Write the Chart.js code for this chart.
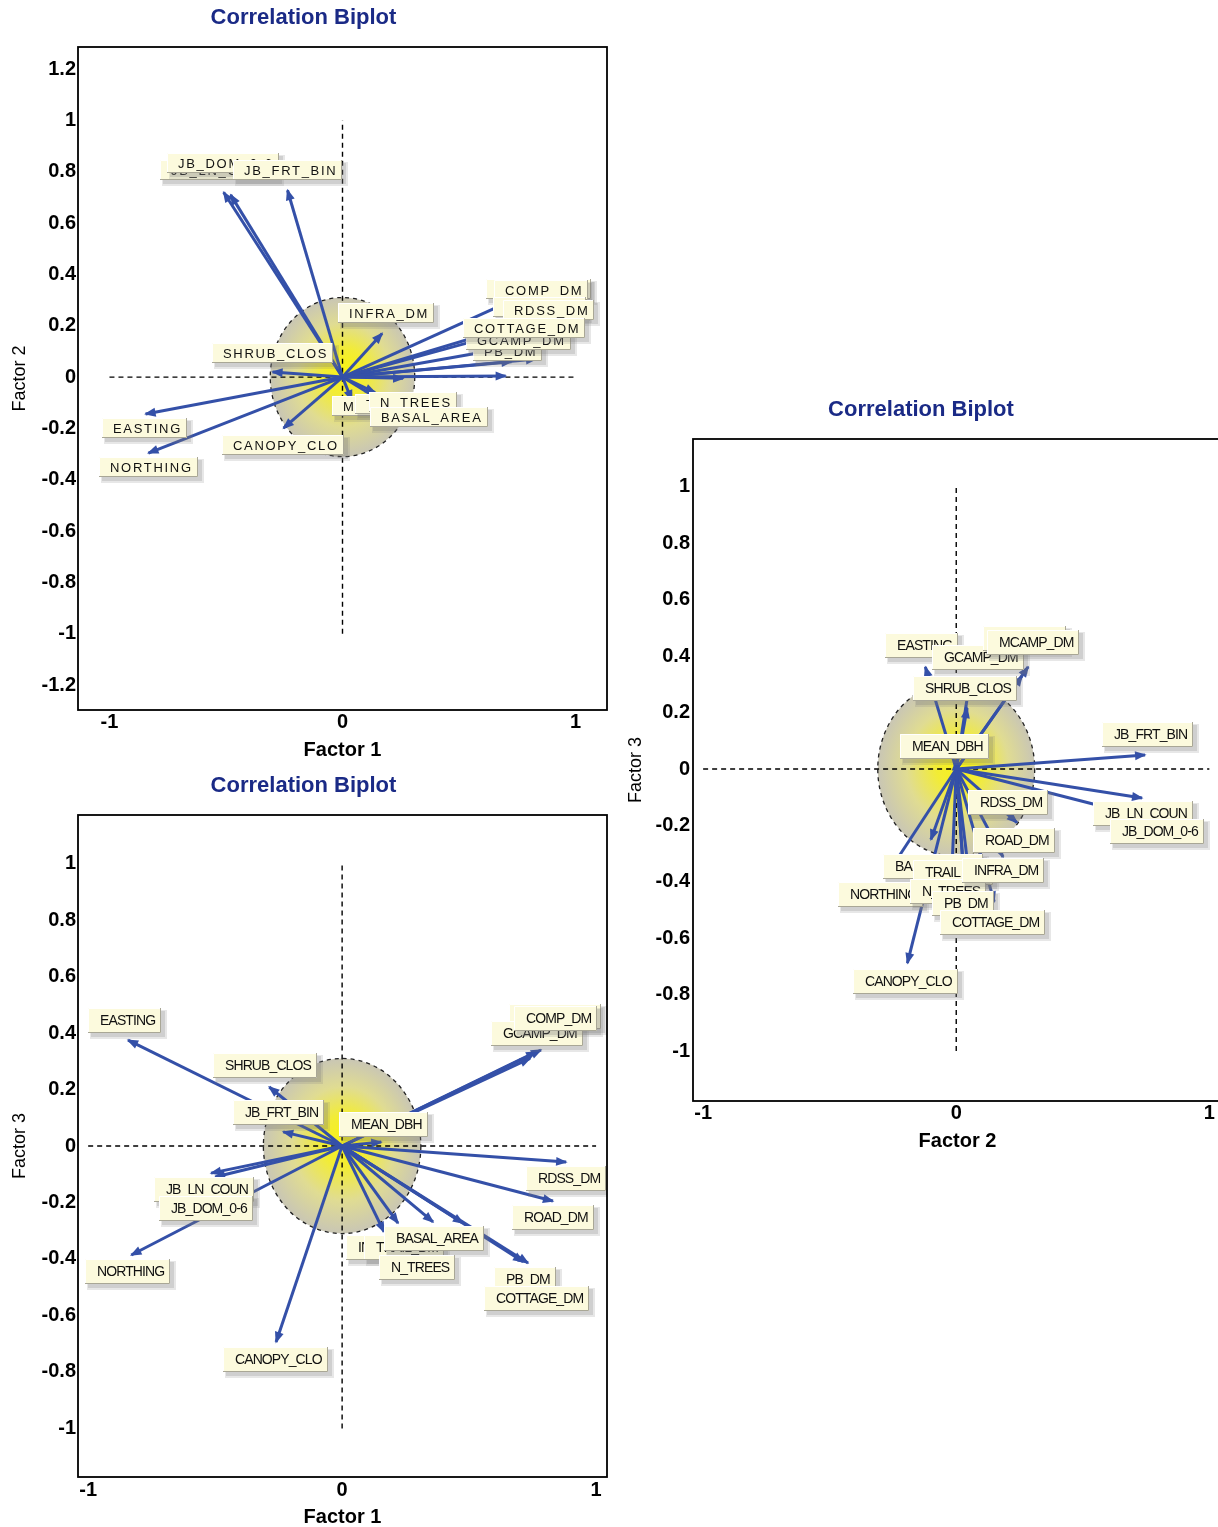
<!DOCTYPE html>
<html>
<head>
<meta charset="utf-8">
<title>Correlation Biplots</title>
<script src="https://cdn.jsdelivr.net/npm/chart.js@4.4.1/dist/chart.umd.min.js"></script>
<style>
  html, body { margin: 0; padding: 0; background: #ffffff; }
  body { position: relative; width: 1218px; height: 1527px; overflow: hidden; }
  canvas { position: absolute; }
</style>
</head>
<body>
<canvas id="plotF1F2" width="620" height="765" style="left:0px;top:0px"></canvas>
<canvas id="plotF1F3" width="620" height="762" style="left:0px;top:765px"></canvas>
<canvas id="plotF2F3" width="620" height="790" style="left:620px;top:380px"></canvas>
<script>
// ---------------- tick labels ----------------
const xTickValues   = [-1, 0, 1];
const yTicksWide    = [-1.2, -1, -0.8, -0.6, -0.4, -0.2, 0, 0.2, 0.4, 0.6, 0.8, 1, 1.2];
const yTicksNarrow  = [-1, -0.8, -0.6, -0.4, -0.2, 0, 0.2, 0.4, 0.6, 0.8, 1];
const circleRadius  = 0.31;

// ---------------- Factor 1 x Factor 2 loadings ----------------
const varsA = ['JB_LN_COUN','JB_DOM_0-6','JB_FRT_BIN','INFRA_DM','SHRUB_CLOS','MCAMP_DM','COMP_DM','ROAD_DM',
               'RDSS_DM','PB_DM','GCAMP_DM','COTTAGE_DM','MEAN_DBH','TRAIL_DM','N_TREES','BASAL_AREA',
               'EASTING','NORTHING','CANOPY_CLO'];
const factor1A = [-0.48, -0.51, -0.236, 0.17, -0.30, 0.70, 0.78, 0.83,
                  0.88, 0.725, 0.775, 0.725, 0.04, 0.26, 0.14, 0.18,
                  -0.845, -0.833, -0.253];
const factor2A = [0.71, 0.72, 0.728, 0.17, 0.02, 0.004, 0.32, 0.07,
                  0.24, 0.06, 0.125, 0.18, -0.09, -0.005, -0.06, -0.10,
                  -0.144, -0.296, -0.199];

// ---------------- Factor 1 x Factor 3 loadings ----------------
const varsB = ['EASTING','SHRUB_CLOS','JB_FRT_BIN','MEAN_DBH','MCAMP_DM','GCAMP_DM','COMP_DM','RDSS_DM',
               'ROAD_DM','JB_LN_COUN','JB_DOM_0-6','NORTHING','INFRA_DM','TRAIL_DM','BASAL_AREA','N_TREES',
               'PB_DM','COTTAGE_DM','CANOPY_CLO'];
const factor1B = [-0.843, -0.287, -0.232, 0.154, 0.74, 0.764, 0.783, 0.882,
                  0.83, -0.516, -0.50, -0.83, 0.165, 0.22, 0.476, 0.358,
                  0.732, 0.713, -0.26];
const factor3B = [0.375, 0.209, 0.05, 0.014, 0.31, 0.333, 0.34, -0.057,
                  -0.195, -0.096, -0.11, -0.386, -0.304, -0.273, -0.273, -0.269,
                  -0.414, -0.41, -0.694];

// ---------------- Factor 2 x Factor 3 loadings ----------------
const varsC = ['EASTING','GCAMP_DM','COMP_DM','MCAMP_DM','SHRUB_CLOS','MEAN_DBH','JB_FRT_BIN','RDSS_DM',
               'JB_LN_COUN','JB_DOM_0-6','ROAD_DM','BASAL_AREA','TRAIL_DM','NORTHING','N_TREES','INFRA_DM',
               'PB_DM','COTTAGE_DM','CANOPY_CLO'];
const factor2C = [-0.122, 0.05, 0.26, 0.284, 0.043, 0.0, 0.746, 0.24,
                  0.734, 0.61, 0.185, -0.10, 0.03, -0.28, -0.02, 0.15,
                  0.04, 0.07, -0.193];
const factor3C = [0.362, 0.29, 0.33, 0.362, 0.216, 0.03, 0.05, -0.19,
                  -0.103, -0.14, -0.312, -0.25, -0.38, -0.383, -0.42, -0.47,
                  -0.50, -0.52, -0.688];

// ---------------- label placement (top-left corner of each tag, axis units) ----------------
const tagsA = [[-0.781,0.845],[-0.755,0.873],[-0.472,0.845],[-0.021,0.288],[-0.558,0.132],
               [0.614,0.382],[0.652,0.378],[0.644,0.312],[0.687,0.300],[0.558,0.140],
               [0.532,0.183],[0.515,0.230],[-0.043,-0.074],[0.052,-0.066],[0.112,-0.058],
               [0.120,-0.117],[-1.030,-0.160],[-1.047,-0.312],[-0.515,-0.226]];
const tagsB = [[-1.0,0.488],[-0.508,0.329],[-0.429,0.163],[-0.012,0.120],[0.657,0.503],
               [0.587,0.442],[0.677,0.496],[0.724,-0.071],[0.669,-0.209],[-0.740,-0.110],
               [-0.720,-0.177],[-1.012,-0.400],[0.016,-0.315],[0.087,-0.315],[0.165,-0.283],
               [0.146,-0.386],[0.598,-0.428],[0.559,-0.496],[-0.469,-0.712]];
const tagsC = [[-0.280,0.482],[-0.095,0.440],[0.107,0.507],[0.122,0.493],[-0.170,0.330],
               [-0.221,0.124],[0.576,0.167],[0.047,-0.074],[0.540,-0.113],[0.607,-0.177],
               [0.067,-0.209],[-0.288,-0.301],[-0.170,-0.323],[-0.469,-0.401],[-0.181,-0.390],
               [0.024,-0.316],[-0.095,-0.433],[-0.063,-0.500],[-0.406,-0.709]];

// ---------------- drawing helpers ----------------
const FONT = '"Liberation Sans", Arial, sans-serif';
const ARROW_BLUE = '#3450a8';
const fmt = v => String(Math.round(v * 10) / 10);

const tagStyleWide   = { font: '13px ' + FONT, spacing: '1.7px', h: 20, padL: 11, padR: 5 };
const tagStyleNarrow = { font: '14px ' + FONT, spacing: '-0.9px', h: 25, padL: 12, padR: 6 };

function drawTag(ctx, x, y, text, st) {
  ctx.font = st.font;
  if ('letterSpacing' in ctx) ctx.letterSpacing = st.spacing;
  const w = Math.round(ctx.measureText(text).width + st.padL + st.padR);
  const h = st.h;
  x = Math.round(x); y = Math.round(y);
  // drop shadow
  ctx.fillStyle = 'rgba(120,120,120,0.18)';
  ctx.fillRect(x + 2, y + 2, w + 4, h + 4);
  ctx.fillStyle = 'rgba(120,120,120,0.22)';
  ctx.fillRect(x + 3, y + 3, w + 1, h + 1);
  // tag body
  ctx.fillStyle = '#fcfadd';
  ctx.fillRect(x, y, w, h);
  ctx.strokeStyle = '#ffffff';
  ctx.lineWidth = 1;
  ctx.beginPath();
  ctx.moveTo(x + 0.5, y + h); ctx.lineTo(x + 0.5, y + 0.5); ctx.lineTo(x + w, y + 0.5);
  ctx.stroke();
  ctx.strokeStyle = '#a9a796';
  ctx.beginPath();
  ctx.moveTo(x + w - 0.5, y); ctx.lineTo(x + w - 0.5, y + h - 0.5); ctx.lineTo(x, y + h - 0.5);
  ctx.stroke();
  ctx.fillStyle = '#111111';
  ctx.textBaseline = 'middle';
  ctx.textAlign = 'left';
  ctx.fillText(text, x + st.padL, y + h / 2 + 1);
  if ('letterSpacing' in ctx) ctx.letterSpacing = '0px';
}

// shaded equilibrium circle and frame, drawn under the datasets
const backdropPlugin = {
  id: 'backdrop',
  beforeDatasetsDraw(chart, args, opts) {
    const { ctx, chartArea: a, scales: { x, y } } = chart;
    const cx = x.getPixelForValue(0), cy = y.getPixelForValue(0);
    const rx = Math.abs(x.getPixelForValue(opts.radius) - cx);
    const ry = Math.abs(y.getPixelForValue(opts.radius) - cy);
    ctx.save();
    ctx.beginPath(); ctx.rect(a.left, a.top, a.right - a.left, a.bottom - a.top); ctx.clip();
    ctx.save();
    ctx.translate(cx, cy);
    ctx.scale(1, ry / rx);
    const g = ctx.createRadialGradient(rx * 0.05, -rx * 0.08, 0, 0, 0, rx);
    g.addColorStop(0, '#f8f214');
    g.addColorStop(0.3, '#f2ec36');
    g.addColorStop(0.65, '#e0dc92');
    g.addColorStop(1, '#c9c6b4');
    ctx.beginPath(); ctx.arc(0, 0, rx, 0, Math.PI * 2);
    ctx.fillStyle = g; ctx.fill();
    ctx.restore();
    ctx.beginPath(); ctx.ellipse(cx, cy, rx, ry, 0, 0, Math.PI * 2);
    ctx.setLineDash([4, 4]); ctx.lineWidth = 1.3; ctx.strokeStyle = '#222222'; ctx.stroke();
    ctx.restore();
  },
  afterDraw(chart) {
    const { ctx, chartArea: a } = chart;
    ctx.save();
    ctx.strokeStyle = '#000000'; ctx.lineWidth = 1.8;
    ctx.strokeRect(a.left, a.top, a.right - a.left, a.bottom - a.top);
    ctx.restore();
  }
};

// arrowheads on the loading vectors, then the variable tags on top
const arrowTagPlugin = {
  id: 'arrowTags',
  afterDatasetsDraw(chart, args, opts) {
    const { ctx, chartArea: a, scales: { x, y } } = chart;
    ctx.save();
    ctx.beginPath(); ctx.rect(a.left, a.top, a.right - a.left, a.bottom - a.top); ctx.clip();
    chart.data.datasets.forEach((ds, i) => {
      if (!ds.isVector) return;
      const pts = chart.getDatasetMeta(i).data;
      const p0 = pts[0], p1 = pts[1];
      let ang = Math.atan2(p1.y - p0.y, p1.x - p0.x);
      if (Math.hypot(p1.x - p0.x, p1.y - p0.y) < 0.5) ang = -Math.PI / 2;
      const L = 10, W = 4.5, c = Math.cos(ang), s = Math.sin(ang);
      ctx.fillStyle = ds.borderColor;
      ctx.beginPath();
      ctx.moveTo(p1.x + c * 1.5, p1.y + s * 1.5);
      ctx.lineTo(p1.x - L * c + W * s, p1.y - L * s - W * c);
      ctx.lineTo(p1.x - L * c - W * s, p1.y - L * s + W * c);
      ctx.closePath();
      ctx.fill();
    });
    opts.names.forEach((name, i) => {
      const t = opts.tags[i];
      drawTag(ctx, x.getPixelForValue(t[0]), y.getPixelForValue(t[1]), name, opts.style);
    });
    ctx.restore();
  }
};

function biplot(canvasId, o) {
  const vectors = o.names.map((name, i) => ({
    label: name,
    isVector: true,
    showLine: true,
    data: [{ x: 0, y: 0 }, { x: o.xs[i], y: o.ys[i] }],
    borderColor: ARROW_BLUE,
    backgroundColor: ARROW_BLUE,
    borderWidth: 3,
    pointRadius: 0,
    pointHoverRadius: 0
  }));
  const crossHairs = [
    { label: 'h0', showLine: true, data: [{ x: -1, y: 0 }, { x: 1, y: 0 }],
      borderColor: '#000000', borderWidth: 1.4, borderDash: [5, 4], pointRadius: 0 },
    { label: 'v0', showLine: true, data: [{ x: 0, y: -1 }, { x: 0, y: 1 }],
      borderColor: '#000000', borderWidth: 1.4, borderDash: [5, 4], pointRadius: 0 }
  ];
  return new Chart(document.getElementById(canvasId), {
    type: 'scatter',
    data: { datasets: vectors.concat(crossHairs) },
    options: {
      responsive: false,
      animation: false,
      events: [],
      layout: { padding: { left: 0, right: o.padRight, top: 0, bottom: 0 } },
      plugins: {
        legend: { display: false },
        tooltip: { enabled: false },
        title: {
          display: true,
          text: 'Correlation Biplot',
          color: '#1a2a86',
          font: { family: FONT, size: 22, weight: 'bold', lineHeight: 1 },
          padding: { top: o.titleTop, bottom: o.titleBottom }
        },
        backdrop: { radius: circleRadius },
        arrowTags: { names: o.names, tags: o.tags, style: o.tagStyle }
      },
      scales: {
        x: {
          type: 'linear', min: o.xMin, max: o.xMax,
          grid: { display: false, drawTicks: false },
          border: { display: false },
          afterBuildTicks: s => { s.ticks = xTickValues.map(v => ({ value: v })); },
          afterFit: s => { s.height = o.xAxisHeight; },
          ticks: { color: '#000000', padding: o.xTickPad, maxRotation: 0,
                   font: { family: FONT, size: 20, weight: 'bold' }, callback: v => fmt(v) },
          title: { display: true, text: o.xTitle, color: '#000000',
                   font: { family: FONT, size: 20, weight: 'bold', lineHeight: 1 },
                   padding: { top: 0, bottom: o.xTitlePad } }
        },
        y: {
          type: 'linear', min: o.yMin, max: o.yMax,
          grid: { display: false, drawTicks: false },
          border: { display: false },
          afterBuildTicks: s => { s.ticks = o.yTicks.map(v => ({ value: v })); },
          afterFit: s => { s.width = o.yAxisWidth; },
          ticks: { color: '#000000', padding: o.yTickPad,
                   font: { family: FONT, size: 20, weight: 'bold' }, callback: v => fmt(v) },
          title: { display: true, text: o.yTitle, color: '#000000',
                   font: { family: FONT, size: 18, weight: 'normal', lineHeight: 1.2 },
                   padding: { top: o.yTitlePad, bottom: 0 } }
        }
      }
    },
    plugins: [backdropPlugin, arrowTagPlugin]
  });
}

biplot('plotF1F2', {
  names: varsA, xs: factor1A, ys: factor2A, tags: tagsA, tagStyle: tagStyleWide,
  xMin: -1.135, xMax: 1.135, yMin: -1.297, yMax: 1.286, yTicks: yTicksWide,
  xTitle: 'Factor 1', yTitle: 'Factor 2',
  padRight: 13, titleTop: 7, titleBottom: 18,
  yAxisWidth: 78, xAxisHeight: 55, xTickPad: 0, yTickPad: 2, xTitlePad: 5, yTitlePad: 9
});

biplot('plotF1F3', {
  names: varsB, xs: factor1B, ys: factor3B, tags: tagsB, tagStyle: tagStyleNarrow,
  xMin: -1.04, xMax: 1.043, yMin: -1.172, yMax: 1.172, yTicks: yTicksNarrow,
  xTitle: 'Factor 1', yTitle: 'Factor 3',
  padRight: 13, titleTop: 10, titleBottom: 18,
  yAxisWidth: 78, xAxisHeight: 50, xTickPad: 1, yTickPad: 2, xTitlePad: 0, yTitlePad: 9
});

biplot('plotF2F3', {
  names: varsC, xs: factor2C, ys: factor3C, tags: tagsC, tagStyle: tagStyleNarrow,
  xMin: -1.04, xMax: 1.05, yMin: -1.177, yMax: 1.17, yTicks: yTicksNarrow,
  xTitle: 'Factor 2', yTitle: 'Factor 3',
  padRight: 18, titleTop: 19, titleBottom: 18,
  yAxisWidth: 73, xAxisHeight: 69, xTickPad: 0, yTickPad: 3, xTitlePad: 19, yTitlePad: 5
});
</script>
</body>
</html>
